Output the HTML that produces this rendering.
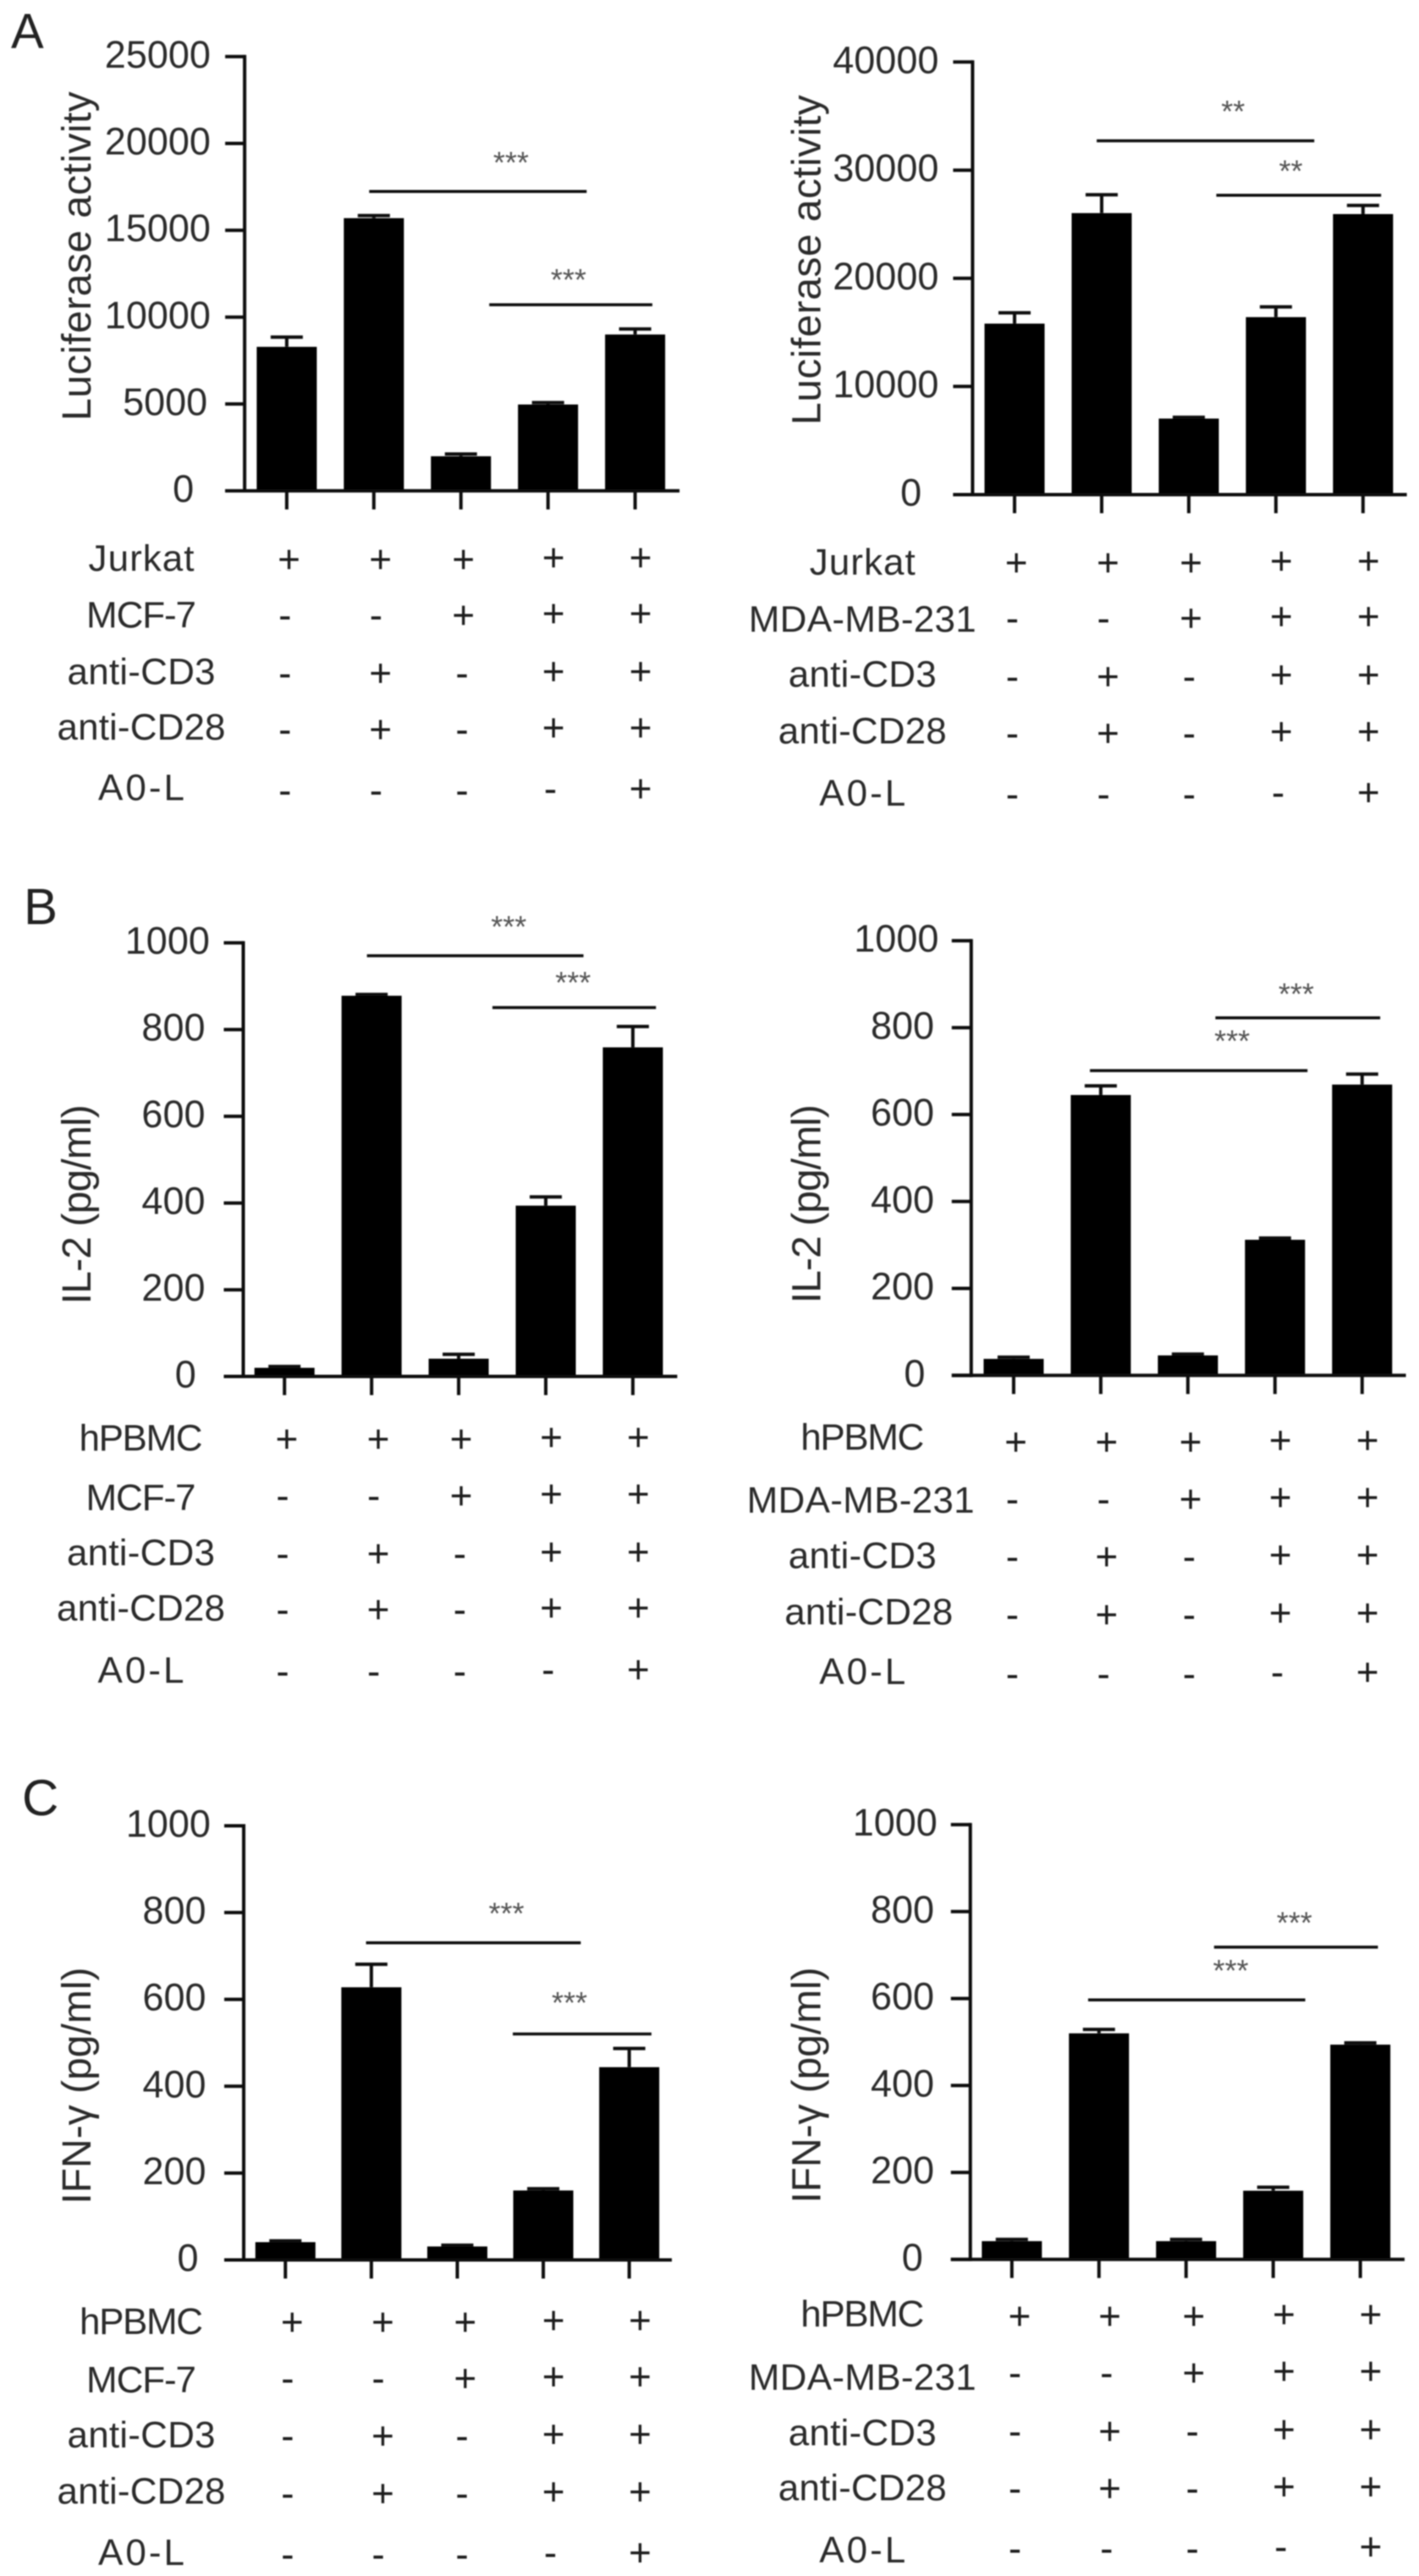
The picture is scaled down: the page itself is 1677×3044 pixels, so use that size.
<!DOCTYPE html>
<html lang="en">
<head>
<meta charset="utf-8">
<title>Luciferase, IL-2 and IFN-γ bar charts</title>
<style>
html,body{margin:0;padding:0;background:#fff;}
svg{display:block;font-family:"Liberation Sans",Arial,sans-serif;}
</style>
</head>
<body>
<svg id="figure" xmlns="http://www.w3.org/2000/svg" width="1677" height="3044" viewBox="0 0 1677 3044">
  <rect width="1677" height="3044" fill="#fff"/>
  <defs><filter id="soft" x="-2%" y="-2%" width="104%" height="104%"><feGaussianBlur stdDeviation="0.7"/></filter></defs>
  <g id="root" filter="url(#soft)">
    <text x="13" y="57" font-size="58" fill="#222">A</text>
    <text x="28" y="1092" font-size="60" fill="#222">B</text>
    <text x="26" y="2145" font-size="60" fill="#222">C</text>
  </g>
</svg>
<script>
// ---- categories and treatment table ----
const categories = ['group-1', 'group-2', 'group-3', 'group-4', 'group-5'];
const effectorSigns = ['+', '+', '+', '+', '+'];
const targetSigns = ['-', '-', '+', '+', '+'];
const antiCd3Signs = ['-', '+', '-', '+', '+'];
const antiCd28Signs = ['-', '+', '-', '+', '+'];
const a0lSigns = ['-', '-', '-', '-', '+'];

// ---- Panel A left ----
const lucMcfTicks = [0, 5000, 10000, 15000, 20000, 25000];
const lucMcfMeans = [8290, 15700, 1990, 4970, 9000];
const lucMcfErrors = [560, 150, 130, 110, 320];
// ---- Panel A right ----
const lucMdaTicks = [0, 10000, 20000, 30000, 40000];
const lucMdaMeans = [15810, 26030, 7030, 16410, 25940];
const lucMdaErrors = [1000, 1700, 120, 950, 800];
// ---- Panel B left ----
const il2McfTicks = [0, 200, 400, 600, 800, 1000];
const il2McfMeans = [20, 878, 41, 394, 759];
const il2McfErrors = [3, 3, 10, 20, 48];
// ---- Panel B right ----
const il2MdaTicks = [0, 200, 400, 600, 800, 1000];
const il2MdaMeans = [38, 645, 46, 312, 669];
const il2MdaErrors = [4, 21, 3, 4, 24];
// ---- Panel C left ----
const ifnMcfTicks = [0, 200, 400, 600, 800, 1000];
const ifnMcfMeans = [41, 628, 31, 160, 444];
const ifnMcfErrors = [3, 53, 3, 4, 43];
// ---- Panel C right ----
const ifnMdaTicks = [0, 200, 400, 600, 800, 1000];
const ifnMdaMeans = [42, 520, 42, 158, 494];
const ifnMdaErrors = [4, 9, 4, 8, 4];

const NS = 'http://www.w3.org/2000/svg';
const INK = '#111';
const TEXT = '#2b2b2b';
const labelWidths = {'Jurkat':125,'MCF-7':130,'MDA-MB-231':269,'anti-CD3':175,'anti-CD28':199,'A0-L':102,'hPBMC':146};

function el(tag, attrs, parent, txt) {
  const n = document.createElementNS(NS, tag);
  for (const k in attrs) n.setAttribute(k, attrs[k]);
  if (txt !== undefined) n.textContent = txt;
  parent.appendChild(n);
  return n;
}
function lineEl(x1, y1, x2, y2, w, parent) {
  return el('line', {x1: x1, y1: y1, x2: x2, y2: y2, stroke: INK, 'stroke-width': w}, parent);
}

function drawPanel(c) {
  const sx = 1569 / (c.ox === 0 ? 840 : 837);
  const sy = 1.569;
  const zx = z => c.ox + z / sx;
  const zy = z => c.oy + z / sy;

  const g = el('g', {}, document.getElementById('root'));
  
  

  const axisX = zx(c.axisX), yTop = zy(c.top), y0 = zy(c.base), maxV = c.ticks[c.ticks.length - 1];
  const yScale = v => y0 - (v / maxV) * (y0 - yTop);
  const first = zx(c.firstBar), step = (zx(c.lastBar) - first) / (categories.length - 1);
  const xScale = i => first + i * step;

  // bars and error bars
  c.means.forEach((v, i) => {
    const top = yScale(v), x = xScale(i);
    const bar = el('rect', {x: x - 35.5, y: top, width: 71, height: y0 - top, fill: '#000'}, g);
    
    
    const capY = yScale(v + c.errors[i]);
    const stem = lineEl(x, top, x, capY, 4, g);
    
    
    const cap = lineEl(x - 19, capY, x + 19, capY, 4, g);
    
    
    const tick = lineEl(x, y0, x, y0 + 22, 4, g);
    
    
  });

  // axes
  const yAxis = lineEl(axisX, yTop - 2, axisX, y0 + 2, 4, g);
  
  
  const xAxis = lineEl(axisX - 23, y0, zx(c.axisEnd), y0, 4, g);
  
  

  // y ticks
  const longest = String(maxV).length;
  c.ticks.forEach(v => {
    const y = yScale(v), s = String(v);
    const t = lineEl(axisX - 23, y, axisX, y, 4, g);
    
    
    const end = s.length === 1 ? c.zeroEnd : (s.length === longest ? c.labelEnd : c.midEnd);
    const lab = el('text', {x: zx(end), y: y + 13, 'text-anchor': 'end', 'font-size': 45, fill: TEXT}, g, s);
    
    
  });

  // axis title
  const tx = zx(c.titleX), ty = zy(c.titleY);
  const title = el('text', {transform: 'translate(' + tx + ' ' + ty + ') rotate(-90)', 'text-anchor': 'middle', 'font-size': 48, fill: TEXT, textLength: c.titleLen, lengthAdjust: 'spacing'}, g, c.title);
  
  

  // significance
  c.sig.forEach((s, i) => {
    const ln = lineEl(zx(s.from), zy(s.y), zx(s.to), zy(s.y), 3.5, g);
    
    
    const st = el('text', {x: zx(s.starX), y: zy(s.starY) + 18, 'text-anchor': 'middle', 'font-size': 36, fill: '#555'}, g, s.stars);
    
    
  });

  // treatment table
  const rows = [effectorSigns, targetSigns, antiCd3Signs, antiCd28Signs, a0lSigns];
  rows.forEach((signs, r) => {
    const name = c.labels[r];
    const lx = c.labelXs ? c.labelXs[r] : c.labelX;
    const lab = el('text', {x: zx(lx), y: zy(c.labelY[r]) + 15, 'text-anchor': 'middle', 'font-size': 44, fill: TEXT, textLength: labelWidths[name], lengthAdjust: 'spacing'}, g, name);
    
    
    signs.forEach((sg, col) => {
      const px = sg === '+' ? c.plusX[col] : c.minusX[col];
      const shift = col < 3 ? 2 : 0;
      const m = el('text', {x: zx(px), y: zy(c.signY[r]) + 15 + shift, 'text-anchor': 'middle', 'font-size': 46, fill: '#1a1a1a'}, g, sg);
      
      
    });
  });
}

drawPanel({id:'luciferase-mcf7', ox:0, oy:0, ticks:lucMcfTicks, means:lucMcfMeans, errors:lucMcfErrors,
  axisX:540, top:105, base:910, axisEnd:1500, firstBar:633, lastBar:1402,
  labelEnd:465, midEnd:458, zeroEnd:428, title:'Luciferase activity', titleX:200, titleY:475, titleLen:389,
  sig:[{from:815,to:1295,y:355,starX:1128,starY:293,stars:'***'},{from:1080,to:1440,y:565,starX:1255,starY:510,stars:'***'}],
  labels:['Jurkat','MCF-7','anti-CD3','anti-CD28','A0-L'], labelX:312, labelY:[1035,1140,1245,1348,1460],
  plusX:[638,840,1023,1222,1414], minusX:[629,830,1020,1215,1215], signY:[1035,1138,1246,1350,1463]});

drawPanel({id:'luciferase-mda', ox:840, oy:0, ticks:lucMdaTicks, means:lucMdaMeans, errors:lucMdaErrors,
  axisX:580, top:115, base:917, axisEnd:1542, firstBar:673, lastBar:1445,
  labelEnd:505, midEnd:505, zeroEnd:467, title:'Luciferase activity', titleX:243, titleY:482, titleLen:390,
  sig:[{from:855,to:1337,y:261,starX:1157,starY:198,stars:'**'},{from:1120,to:1485,y:362,starX:1285,starY:308,stars:'**'}],
  labels:['Jurkat','MDA-MB-231','anti-CD3','anti-CD28','A0-L'], labelX:336, labelY:[1042,1148,1250,1355,1470],
  plusX:[677,880,1064,1264,1457], minusX:[668,870,1060,1257,1257], signY:[1041,1144,1252,1357,1470]});

drawPanel({id:'il2-mcf7', ox:0, oy:1030, ticks:il2McfTicks, means:il2McfMeans, errors:il2McfErrors,
  axisX:537, top:132, base:936, axisEnd:1495, firstBar:628, lastBar:1397,
  labelEnd:463, midEnd:453, zeroEnd:433, title:'IL-2 (pg/ml)', titleX:200, titleY:617, titleLen:236,
  sig:[{from:810,to:1288,y:156,starX:1123,starY:93,stars:'***'},{from:1087,to:1448,y:252,starX:1265,starY:197,stars:'***'}],
  labels:['hPBMC','MCF-7','anti-CD3','anti-CD28','A0-L'], labelX:311, labelY:[1050,1160,1262,1365,1480],
  plusX:[633,835,1018,1217,1409], minusX:[624,825,1015,1210,1210], signY:[1050,1155,1262,1366,1480]});

drawPanel({id:'il2-mda', ox:840, oy:1030, ticks:il2MdaTicks, means:il2MdaMeans, errors:il2MdaErrors,
  axisX:577, top:128, base:934, axisEnd:1540, firstBar:671, lastBar:1443,
  labelEnd:505, midEnd:495, zeroEnd:475, title:'IL-2 (pg/ml)', titleX:243, titleY:616, titleLen:235,
  sig:[{from:840,to:1322,y:369,starX:1155,starY:305,stars:'***'},{from:1118,to:1483,y:271,starX:1297,starY:218,stars:'***'}],
  labels:['hPBMC','MDA-MB-231','anti-CD3','anti-CD28','A0-L'], labelXs:[336,332,336,350,336], labelY:[1048,1165,1268,1372,1483],
  plusX:[676,877,1063,1262,1455], minusX:[668,870,1060,1255,1255], signY:[1055,1161,1268,1375,1485]});

drawPanel({id:'ifn-gamma-mcf7', ox:0, oy:2044, ticks:ifnMcfTicks, means:ifnMcfMeans, errors:ifnMcfErrors,
  axisX:538, top:178, base:983, axisEnd:1483, firstBar:630, lastBar:1389,
  labelEnd:465, midEnd:455, zeroEnd:438, title:'IFN-γ (pg/ml)', titleX:200, titleY:660, titleLen:280,
  sig:[{from:808,to:1282,y:395,starX:1118,starY:332,stars:'***'},{from:1132,to:1438,y:564,starX:1257,starY:497,stars:'***'}],
  labels:['hPBMC','MCF-7','anti-CD3','anti-CD28','A0-L'], labelX:312, labelY:[1097,1205,1307,1411,1525],
  plusX:[645,845,1027,1222,1413], minusX:[635,835,1020,1215,1215], signY:[1096,1200,1307,1414,1527]});

drawPanel({id:'ifn-gamma-mda', ox:840, oy:2044, ticks:ifnMdaTicks, means:ifnMdaMeans, errors:ifnMdaErrors,
  axisX:575, top:176, base:982, axisEnd:1537, firstBar:667, lastBar:1439,
  labelEnd:502, midEnd:495, zeroEnd:470, title:'IFN-γ (pg/ml)', titleX:243, titleY:659, titleLen:279,
  sig:[{from:836,to:1317,y:501,starX:1152,starY:438,stars:'***'},{from:1115,to:1478,y:403,starX:1293,starY:349,stars:'***'}],
  labels:['hPBMC','MDA-MB-231','anti-CD3','anti-CD28','A0-L'], labelX:336, labelY:[1083,1200,1303,1405,1520],
  plusX:[684,884,1070,1270,1462], minusX:[674,877,1067,1263,1263], signY:[1085,1190,1298,1404,1516]});
</script>
</body>
</html>
